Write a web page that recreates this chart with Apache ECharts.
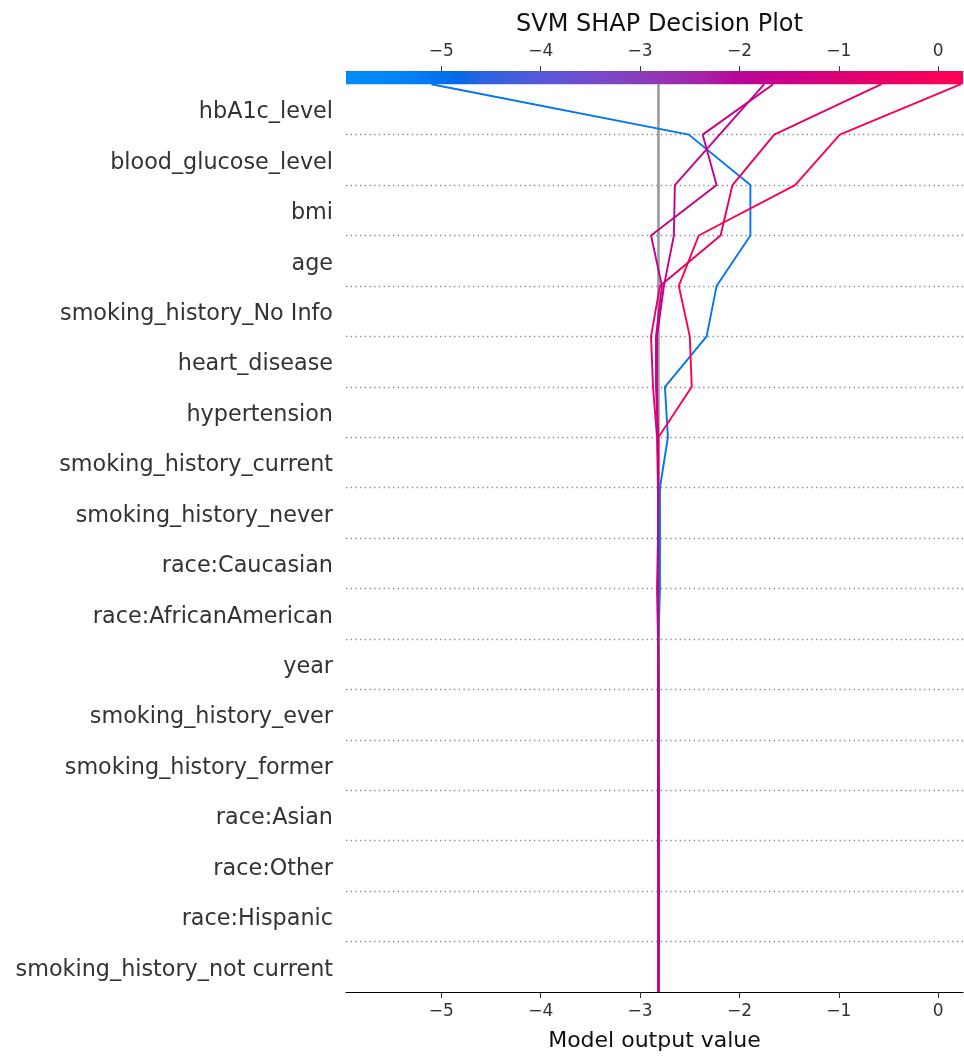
<!DOCTYPE html>
<html>
<head>
<meta charset="utf-8">
<title>SVM SHAP Decision Plot</title>
<script src="https://cdn.jsdelivr.net/npm/echarts@6/dist/echarts.min.js"></script>
<style>
  html, body { margin: 0; padding: 0; background: #ffffff; }
  #chart { width: 964px; height: 1057px; }
</style>
</head>
<body>
<div id="chart"></div>
<script>
// Features, listed top to bottom as they appear in the plot
const features = [
  'hbA1c_level', 'blood_glucose_level', 'bmi', 'age', 'smoking_history_No Info',
  'heart_disease', 'hypertension', 'smoking_history_current', 'smoking_history_never',
  'race:Caucasian', 'race:AfricanAmerican', 'year', 'smoking_history_ever',
  'smoking_history_former', 'race:Asian', 'race:Other', 'race:Hispanic',
  'smoking_history_not current'
];

// Expected model output (base value)
const baseValue = -2.815;

// Horizontal range of the model output axis
const xMin = -5.96;
const xMax = 0.25;
const xTicks = [-5, -4, -3, -2, -1, 0];

// Cumulative model output at each feature boundary, from the bottom (base value)
// up to the top (final prediction) — one array per sample
const sampleA = [-2.815, -2.81, -2.81, -2.81, -2.81, -2.81, -2.81, -2.815, -2.80, -2.80, -2.80, -2.72, -2.75, -2.33, -2.23, -1.89, -1.89, -2.51, -5.10];
const sampleB = [-2.815, -2.815, -2.815, -2.815, -2.815, -2.82, -2.82, -2.82, -2.82, -2.82, -2.815, -2.815, -2.48, -2.50, -2.61, -2.41, -1.44, -0.99, 0.23];
const sampleC = [-2.815, -2.815, -2.815, -2.82, -2.82, -2.82, -2.82, -2.82, -2.83, -2.82, -2.82, -2.83, -2.87, -2.89, -2.80, -2.19, -2.07, -1.65, -0.57];
const sampleD = [-2.815, -2.815, -2.815, -2.815, -2.815, -2.815, -2.815, -2.815, -2.82, -2.82, -2.82, -2.82, -2.83, -2.83, -2.76, -2.66, -2.65, -2.20, -1.75];
const sampleE = [-2.815, -2.815, -2.815, -2.815, -2.815, -2.815, -2.815, -2.82, -2.82, -2.82, -2.82, -2.82, -2.84, -2.84, -2.78, -2.89, -2.23, -2.37, -1.66];

const samples = [sampleA, sampleB, sampleC, sampleD, sampleE];

// Blue -> purple -> red colour scale
const cmapStops = [
  [0.00, '#008bfb'], [0.10, '#0083f8'], [0.18, '#006ae8'], [0.22, '#2a64e2'],
  [0.32, '#5a58d8'], [0.42, '#7a48c8'], [0.50, '#9038b8'], [0.58, '#a522a5'],
  [0.63, '#b70898'], [0.68, '#c3008f'], [0.75, '#d20082'], [0.85, '#e60069'],
  [1.00, '#ff0052']
];

function hexToRgb(h) {
  return [parseInt(h.slice(1, 3), 16), parseInt(h.slice(3, 5), 16), parseInt(h.slice(5, 7), 16)];
}
function cmap(t) {
  t = Math.max(0, Math.min(1, t));
  for (let i = 1; i < cmapStops.length; i++) {
    const [t1, c1] = cmapStops[i];
    const [t0, c0] = cmapStops[i - 1];
    if (t <= t1) {
      const f = (t - t0) / (t1 - t0);
      const a = hexToRgb(c0), b = hexToRgb(c1);
      const c = a.map((v, j) => Math.round(v + (b[j] - v) * f));
      return 'rgb(' + c.join(',') + ')';
    }
  }
  return cmapStops[cmapStops.length - 1][1];
}

const fontFamily = 'DejaVu Sans';
const nRows = features.length;
const minusFmt = v => (v < 0 ? '\u2212' + Math.abs(v) : String(v));

const lineSeries = samples.map(vals => ({
  type: 'line',
  xAxisIndex: 0,
  yAxisIndex: 0,
  data: vals.map((v, k) => [v, k]),
  showSymbol: false,
  symbol: 'none',
  silent: true,
  z: 3,
  lineStyle: { color: cmap((vals[vals.length - 1] - xMin) / (xMax - xMin)), width: 1.9 }
}));

const chart = echarts.init(document.getElementById('chart'), null, { renderer: 'canvas' });

chart.setOption({
  animation: false,
  backgroundColor: '#ffffff',
  textStyle: { fontFamily: fontFamily },
  grid: { left: 346, right: 1, top: 84.2, bottom: 62, containLabel: false },
  xAxis: [
    {
      type: 'value', position: 'bottom', min: xMin, max: xMax,
      name: 'Model output value', nameLocation: 'middle', nameGap: 38,
      nameTextStyle: { fontSize: 22, color: '#111', fontFamily: fontFamily },
      axisLine: { show: true, onZero: false, lineStyle: { color: '#000', width: 1.2 } },
      axisTick: { show: true, length: 6, customValues: xTicks, lineStyle: { color: '#333' } },
      axisLabel: { customValues: xTicks, formatter: minusFmt, fontSize: 17, color: '#333', margin: 11, fontFamily: fontFamily },
      splitLine: { show: false }
    },
    {
      type: 'value', position: 'top', offset: 13, min: xMin, max: xMax,
      axisLine: { show: true, onZero: false, lineStyle: { color: '#555', width: 1 } },
      axisTick: { show: true, length: 5, customValues: xTicks, lineStyle: { color: '#333' } },
      axisLabel: { customValues: xTicks, formatter: minusFmt, fontSize: 17, color: '#333', margin: 11, fontFamily: fontFamily },
      splitLine: { show: false }
    }
  ],
  yAxis: [
    {
      type: 'value', min: 0, max: nRows, interval: 1,
      axisLine: { show: false }, axisTick: { show: false }, axisLabel: { show: false },
      splitLine: {
        show: true, showMinLine: false, showMaxLine: false,
        lineStyle: { color: '#888', width: 1.3, type: [1.3, 3.4] }
      }
    },
    {
      type: 'category', position: 'left',
      data: features.slice().reverse(),
      boundaryGap: true,
      axisLine: { show: false }, axisTick: { show: false },
      axisLabel: {
        margin: 13,
        formatter: v => '{f|' + v + '}',
        rich: { f: { fontSize: 22.3, color: '#333', fontFamily: fontFamily, padding: [6, 0, 0, 0] } }
      },
      splitLine: { show: false }
    }
  ],
  series: [
    {
      type: 'line',
      xAxisIndex: 0,
      yAxisIndex: 0,
      data: [[baseValue, 0], [baseValue, nRows]],
      showSymbol: false,
      symbol: 'none',
      silent: true,
      z: 2,
      lineStyle: { color: '#999', width: 2.6 }
    }
  ].concat(lineSeries)
});

// Colour bar along the top edge of the plot and the title centred over it
const pL = chart.convertToPixel({ xAxisIndex: 0, yAxisIndex: 0 }, [xMin, nRows]);
const pR = chart.convertToPixel({ xAxisIndex: 0, yAxisIndex: 0 }, [xMax, nRows]);
const barH = 13;
chart.setOption({
  title: {
    text: 'SVM SHAP Decision Plot',
    left: (pL[0] + pR[0]) / 2,
    top: 8,
    textAlign: 'center',
    textStyle: { fontSize: 24, fontWeight: 'normal', color: '#111', fontFamily: fontFamily }
  },
  graphic: [
    {
      type: 'rect',
      z: 10,
      silent: true,
      shape: { x: pL[0], y: pL[1] - barH, width: pR[0] - pL[0], height: barH },
      style: {
        fill: new echarts.graphic.LinearGradient(0, 0, 1, 0,
          cmapStops.map(s => ({ offset: s[0], color: s[1] })))
      }
    }
  ]
});
</script>
</body>
</html>
